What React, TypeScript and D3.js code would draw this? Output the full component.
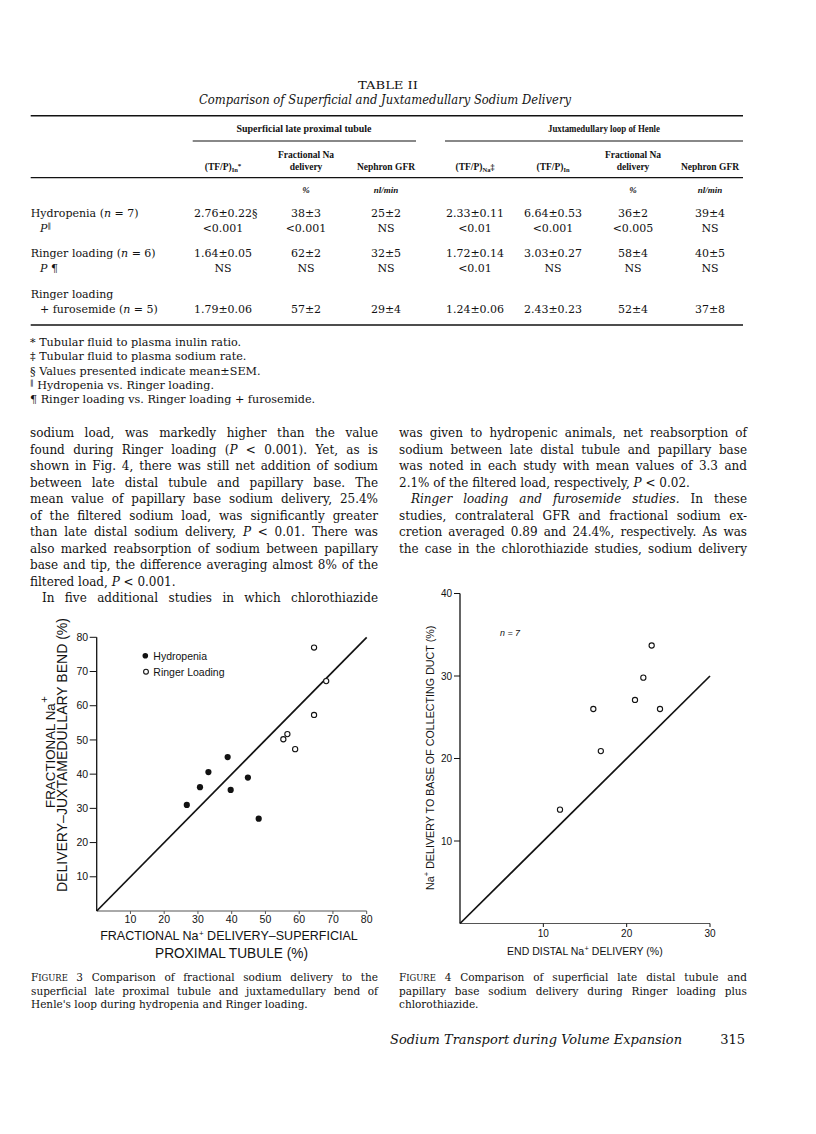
import React from 'react';
import * as d3 from 'd3';

const SERIF = '"DejaVu Serif"';
const TSERIF = '"Liberation Serif"';
const SANS = '"Liberation Sans"';
const INK = '#121212';

// ---------- Figure 3 data ----------
const hydropeniaX = [26.7, 30.6, 33.1, 38.8, 39.7, 44.8, 48.0];
const hydropeniaY = [31.0, 36.2, 40.6, 45.0, 35.4, 39.0, 27.0];
const ringerX = [55.3, 56.5, 58.8, 64.4, 64.4, 68.0];
const ringerY = [50.2, 51.7, 47.3, 57.3, 77.0, 67.2];
const fig3Ticks = [10, 20, 30, 40, 50, 60, 70, 80];

// ---------- Figure 4 data ----------
const fig4X = [12.0, 16.0, 16.9, 21.0, 22.0, 23.0, 24.0];
const fig4Y = [13.8, 26.0, 20.9, 27.1, 29.8, 33.7, 26.0];
const fig4XTicks = [10, 20, 30];
const fig4YTicks = [10, 20, 30, 40];

// ---------- Table II data ----------
const rowLabels = ['Hydropenia (_n_ = 7)', '_P_~‖~', 'Ringer loading (_n_ = 6)', '_P_ ¶', 'Ringer loading', '+ furosemide (_n_ = 5)'];
const hydropeniaRow = ['2.76±0.22§', '38±3', '25±2', '2.33±0.11', '6.64±0.53', '36±2', '39±4'];
const hydropeniaP = ['<0.001', '<0.001', 'NS', '<0.01', '<0.001', '<0.005', 'NS'];
const ringerRow = ['1.64±0.05', '62±2', '32±5', '1.72±0.14', '3.03±0.27', '58±4', '40±5'];
const ringerP = ['NS', 'NS', 'NS', '<0.01', 'NS', 'NS', 'NS'];
const furosemideRow = ['1.79±0.06', '57±2', '29±4', '1.24±0.06', '2.43±0.23', '52±4', '37±8'];
const unitsRow = ['', '%', 'nl/min', '', '', '%', 'nl/min'];
const footnotes = [
  '* Tubular fluid to plasma inulin ratio.',
  '‡ Tubular fluid to plasma sodium rate.',
  '§ Values presented indicate mean±SEM.',
  '~‖~ Hydropenia vs. Ringer loading.',
  '¶ Ringer loading vs. Ringer loading + furosemide.',
];

const leftBody = [
  'sodium load, was markedly higher than the value',
  'found during Ringer loading (_P_ < 0.001). Yet, as is',
  'shown in Fig. 4, there was still net addition of sodium',
  'between late distal tubule and papillary base. The',
  'mean value of papillary base sodium delivery, 25.4%',
  'of the filtered sodium load, was significantly greater',
  'than late distal sodium delivery, _P_ < 0.01. There was',
  'also marked reabsorption of sodium between papillary',
  'base and tip, the difference averaging almost 8% of the',
  'filtered load, _P_ < 0.001.',
  'In five additional studies in which chlorothiazide',
];
const leftNoJust = [9];
const leftIndent = [10];
const rightBody = [
  'was given to hydropenic animals, net reabsorption of',
  'sodium between late distal tubule and papillary base',
  'was noted in each study with mean values of 3.3 and',
  '2.1% of the filtered load, respectively, _P_ < 0.02.',
  '_Ringer loading and furosemide studies._ In these',
  'studies, contralateral GFR and fractional sodium ex-',
  'cretion averaged 0.89 and 24.4%, respectively. As was',
  'the case in the chlorothiazide studies, sodium delivery',
];
const rightNoJust = [3];
const rightIndent = [4];

const caption3 = [
  'F^IGURE^ 3 Comparison of fractional sodium delivery to the',
  'superficial late proximal tubule and juxtamedullary bend of',
  "Henle's loop during hydropenia and Ringer loading.",
];
const caption4 = [
  'F^IGURE^ 4 Comparison of superficial late distal tubule and',
  'papillary base sodium delivery during Ringer loading plus',
  'chlorothiazide.',
];

// ---------- text helpers ----------
let _ctx: CanvasRenderingContext2D | null = null;
function measure(text: string, font: string): number {
  if (!_ctx) {
    const c = document.createElement('canvas');
    _ctx = c.getContext('2d');
  }
  _ctx!.font = font;
  return _ctx!.measureText(text).width;
}

type Seg = { t: string; it: boolean; sc: boolean; sup: boolean };
function parseWords(line: string): Seg[][] {
  const words: Seg[][] = [];
  let it = false;
  let sc = false;
  let sup = false;
  let cur: Seg[] = [];
  let buf = '';
  const flush = () => {
    if (buf) {
      cur.push({ t: buf, it, sc, sup });
      buf = '';
    }
  };
  for (const ch of line) {
    if (ch === '_') { flush(); it = !it; }
    else if (ch === '^') { flush(); sc = !sc; }
    else if (ch === '~') { flush(); sup = !sup; }
    else if (ch === ' ') { flush(); if (cur.length) { words.push(cur); cur = []; } }
    else buf += ch;
  }
  flush();
  if (cur.length) words.push(cur);
  return words;
}

function JLine(props: { text: string; x: number; y: number; width: number; size: number; family: string; justify: boolean; indent?: number; scSize?: number }) {
  const { text, x, y, width, size, family, justify, indent = 0, scSize = size * 0.78 } = props;
  const words = parseWords(text);
  const supSize = size * 0.65;
  const segSize = (s: Seg) => (s.sup ? supSize : s.sc ? scSize : size);
  const fontOf = (s: Seg) => `${s.it ? 'italic ' : ''}${segSize(s)}px ${family}`;
  const ww = words.map((w) => w.reduce((a, s) => a + measure(s.t, fontOf(s)), 0));
  const sum = ww.reduce((a, b) => a + b, 0);
  const space = measure(' ', `${size}px ${family}`);
  const avail = width - indent;
  let gap = space;
  if (justify && words.length > 1) gap = Math.max(1.5, (avail - sum) / (words.length - 1));
  let cx = x + indent;
  return (
    <g>
      {words.map((w, i) => {
        let sx = cx;
        const el = (
          <text key={i} x={cx} y={y} fontFamily={family} fontSize={size} fill={INK}>
            {w.map((s, j) => {
              const t = (
                <tspan key={j} x={sx} y={y + (s.sup ? -size * 0.33 : 0)} fontSize={segSize(s)}
                  fontStyle={s.it ? 'italic' : 'normal'}>{s.t}</tspan>
              );
              sx += measure(s.t, fontOf(s));
              return t;
            })}
          </text>
        );
        cx += ww[i] + gap;
        return el;
      })}
    </g>
  );
}

type RSeg = { t: string; size: number; family: string; it?: boolean; bold?: boolean; dy?: number };
function fontStr(s: RSeg, k = 1) {
  return `${s.it ? 'italic ' : ''}${s.bold ? 'bold ' : ''}${s.size * k}px ${s.family}`;
}
// Single <text> element; multi-segment runs are fitted to a target width by scaling the font size.
function Rich(props: { segs: RSeg[]; x: number; y: number; anchor?: string; width?: number; fill?: string }) {
  const { segs, x, y, anchor = 'start', width, fill = INK } = props;
  const single = segs.length === 1;
  const nat = segs.reduce((a, s) => a + measure(s.t, fontStr(s)), 0);
  const k = width && !single ? width / nat : 1;
  const ws = segs.map((s) => measure(s.t, fontStr(s, k)));
  const total = single && width ? width : ws.reduce((a, b) => a + b, 0);
  let cx = anchor === 'middle' ? x - total / 2 : anchor === 'end' ? x - total : x;
  const s0 = segs[0];
  return (
    <text
      x={cx}
      y={y}
      fontFamily={s0.family}
      fontSize={s0.size * k}
      fill={fill}
      textLength={single && width ? width : undefined}
      lengthAdjust={single && width ? 'spacingAndGlyphs' : undefined}
      fontStyle={single && s0.it ? 'italic' : undefined}
      fontWeight={single && s0.bold ? 'bold' : undefined}
    >
      {single
        ? s0.t
        : segs.map((s, i) => {
            const el = (
              <tspan key={i} x={cx} y={y + (s.dy || 0) * k} fontSize={s.size * k} fontFamily={s.family}
                fontStyle={s.it ? 'italic' : 'normal'} fontWeight={s.bold ? 'bold' : 'normal'}>{s.t}</tspan>
            );
            cx += ws[i];
            return el;
          })}
    </text>
  );
}

// ---------- Table ----------
const colX = [223, 306, 386, 475, 553, 633, 710];
function Table() {
  const hs = 9.5;
  const hb = (t: string, extra: Partial<RSeg> = {}): RSeg => ({ t, size: hs, family: TSERIF, bold: true, ...extra });
  const valSize = 11;
  const cell = (v: string, cx: number, y: number) => {
    const base = v.replace(/§$/, '');
    const w = measure(base, `${valSize}px ${SERIF}`);
    return (
      <text key={cx + '-' + y} x={cx - w / 2} y={y} fontSize={valSize} fontFamily={SERIF} fill={INK}>{v}</text>
    );
  };
  const rowsY = [216.5, 232, 257, 272, 297.5, 312.5];
  const dataRows: [string[], number][] = [
    [hydropeniaRow, rowsY[0]],
    [hydropeniaP, rowsY[1]],
    [ringerRow, rowsY[2]],
    [ringerP, rowsY[3]],
    [furosemideRow, rowsY[5]],
  ];
  const labelX = [30.7, 40, 30.7, 40, 30.7, 40];
  return (
    <g>
      <Rich segs={[{ t: 'TABLE II', size: 11.5, family: SERIF }]} x={388} y={89} anchor="middle" width={60} />
      <Rich segs={[{ t: 'Comparison of Superficial and Juxtamedullary Sodium Delivery', size: 12, family: SERIF, it: true }]} x={385} y={104} anchor="middle" width={372} />
      <line x1={30.7} x2={743} y1={115.7} y2={115.7} stroke={INK} strokeWidth={1.6} />
      <Rich segs={[hb('Superficial late proximal tubule')]} x={304} y={131.5} anchor="middle" width={135} />
      <Rich segs={[hb('Juxtamedullary loop of Henle')]} x={604} y={131.5} anchor="middle" width={112} />
      <line x1={192.7} x2={416} y1={141} y2={141} stroke={INK} strokeWidth={1.1} />
      <line x1={445} x2={743} y1={141} y2={141} stroke={INK} strokeWidth={1.1} />
      <Rich segs={[hb('(TF/P)'), hb('In', { size: 6.5, dy: 2 }), hb('*', { size: 7, dy: -2 })]} x={colX[0]} y={169.5} anchor="middle" />
      <Rich segs={[hb('Fractional Na')]} x={colX[1]} y={158} anchor="middle" />
      <Rich segs={[hb('delivery')]} x={colX[1]} y={169.5} anchor="middle" />
      <Rich segs={[hb('Nephron GFR')]} x={colX[2]} y={169.5} anchor="middle" />
      <Rich segs={[hb('(TF/P)'), hb('Na', { size: 6.5, dy: 2 }), hb('‡', { size: 8 })]} x={colX[3]} y={169.5} anchor="middle" />
      <Rich segs={[hb('(TF/P)'), hb('In', { size: 6.5, dy: 2 })]} x={colX[4]} y={169.5} anchor="middle" />
      <Rich segs={[hb('Fractional Na')]} x={colX[5]} y={158} anchor="middle" />
      <Rich segs={[hb('delivery')]} x={colX[5]} y={169.5} anchor="middle" />
      <Rich segs={[hb('Nephron GFR')]} x={colX[6]} y={169.5} anchor="middle" />
      <line x1={30.7} x2={743} y1={177.7} y2={177.7} stroke={INK} strokeWidth={1.3} />
      {unitsRow.map((u, i) => u ? (
        <Rich key={'u' + i} segs={[{ t: u, size: 9, family: TSERIF, bold: true, it: true }]} x={colX[i]} y={193} anchor="middle" />
      ) : null)}
      {rowLabels.map((l, i) => (
        <JLine key={'l' + i} text={l} x={labelX[i]} y={rowsY[i]} width={200} size={11} family={SERIF} justify={false} />
      ))}
      {dataRows.map(([vals, y]) => vals.map((v, i) => cell(v, colX[i], y)))}
      <line x1={30.7} x2={743} y1={325} y2={325} stroke={INK} strokeWidth={1.6} />
      {footnotes.map((f, i) => (
        <JLine key={'f' + i} text={f} x={30} y={346 + i * 14.3} width={400} size={11.2} family={SERIF} justify={false} />
      ))}
    </g>
  );
}

function Body() {
  const lh = 16.5;
  const y0 = 437;
  return (
    <g>
      {leftBody.map((t, i) => (
        <JLine key={'lb' + i} text={t} x={30} y={y0 + i * lh} width={348} size={12} family={SERIF}
          justify={!leftNoJust.includes(i)} indent={leftIndent.includes(i) ? 12 : 0} />
      ))}
      {rightBody.map((t, i) => (
        <JLine key={'rb' + i} text={t} x={399} y={y0 + i * lh} width={348} size={12} family={SERIF}
          justify={!rightNoJust.includes(i)} indent={rightIndent.includes(i) ? 12 : 0} />
      ))}
    </g>
  );
}

function Captions() {
  const ys = [981, 994.5, 1008];
  return (
    <g>
      {caption3.map((t, i) => (
        <JLine key={'c3' + i} text={t} x={31} y={ys[i]} width={347} size={10.5} family={SERIF} justify={i < 2} scSize={8.4} />
      ))}
      {caption4.map((t, i) => (
        <JLine key={'c4' + i} text={t} x={399} y={ys[i]} width={348} size={10.5} family={SERIF} justify={i < 2} scSize={8.4} />
      ))}
      <Rich segs={[{ t: 'Sodium Transport during Volume Expansion', size: 12.5, family: SERIF, it: true }]} x={390} y={1044} width={292} />
      <Rich segs={[{ t: '315', size: 13, family: SERIF }]} x={745} y={1044} anchor="end" />
    </g>
  );
}

// ---------- Figure 3 ----------
function Figure3() {
  const x = d3.scaleLinear().domain([0, 80]).range([96.7, 366.7]);
  const y = d3.scaleLinear().domain([0, 80]).range([911, 637.3]);
  const fs = 10.5;
  return (
    <g>
      <line x1={x(0)} x2={x(0)} y1={y(0)} y2={y(80)} stroke={INK} strokeWidth={1.3} />
      <line x1={x(0)} x2={x(80)} y1={y(0)} y2={y(0)} stroke="#555" strokeWidth={1} />
      {fig3Ticks.map((t) => (
        <g key={'y' + t}>
          <line x1={x(0) - 7} x2={x(0)} y1={y(t)} y2={y(t)} stroke={INK} strokeWidth={1} />
          <text x={x(0) - 8.5} y={y(t) + 3.7} fontSize={fs} fontFamily={SANS} textAnchor="end" fill={INK}>{t}</text>
        </g>
      ))}
      {fig3Ticks.map((t) => (
        <g key={'x' + t}>
          <line x1={x(t)} x2={x(t)} y1={y(0)} y2={y(0) + 3} stroke="#555" strokeWidth={1} />
          <text x={x(t)} y={923} fontSize={fs} fontFamily={SANS} textAnchor="middle" fill={INK}>{t}</text>
        </g>
      ))}
      <line x1={x(0)} y1={y(0)} x2={x(80)} y2={y(80)} stroke={INK} strokeWidth={1.7} />
      {hydropeniaX.map((v, i) => (
        <circle key={'h' + i} cx={x(v)} cy={y(hydropeniaY[i])} r={3.1} fill={INK} />
      ))}
      {ringerX.map((v, i) => (
        <circle key={'r' + i} cx={x(v)} cy={y(ringerY[i])} r={2.6} fill="#fff" stroke={INK} strokeWidth={1.1} />
      ))}
      <circle cx={145.3} cy={655.7} r={2.8} fill={INK} />
      <text x={153.3} y={659.6} fontSize={fs} fontFamily={SANS} fill={INK}>Hydropenia</text>
      <circle cx={146} cy={671.7} r={2.4} fill="#fff" stroke={INK} strokeWidth={1.1} />
      <text x={153.3} y={675.6} fontSize={fs} fontFamily={SANS} fill={INK}>Ringer Loading</text>
      <g transform="translate(54.5,752) rotate(-90)">
        <Rich segs={[{ t: 'FRACTIONAL Na', size: 14, family: SANS }, { t: '+', size: 12, family: SANS, dy: -6.5 }]} x={0} y={0} anchor="middle" width={112} />
      </g>
      <g transform="translate(66.8,755) rotate(-90)">
        <Rich segs={[{ t: 'DELIVERY–JUXTAMEDULLARY BEND (%)', size: 14, family: SANS }]} x={0} y={0} anchor="middle" width={274} />
      </g>
      <Rich segs={[{ t: 'FRACTIONAL Na', size: 14, family: SANS }, { t: '+', size: 9, family: SANS, dy: -4.5 }, { t: ' DELIVERY–SUPERFICIAL', size: 14, family: SANS }]} x={229} y={940} anchor="middle" width={258} />
      <Rich segs={[{ t: 'PROXIMAL TUBULE (%)', size: 14, family: SANS }]} x={231.5} y={957.5} anchor="middle" width={153} />
    </g>
  );
}

// ---------- Figure 4 ----------
function Figure4() {
  const x = d3.scaleLinear().domain([0, 30]).range([460, 710]);
  const y = d3.scaleLinear().domain([0, 40]).range([923.5, 593.5]);
  const fs = 10;
  return (
    <g>
      <line x1={x(0)} x2={x(0)} y1={y(0)} y2={y(40)} stroke={INK} strokeWidth={1.3} />
      <line x1={x(0)} x2={x(30)} y1={y(0)} y2={y(0)} stroke="#555" strokeWidth={1} />
      {fig4YTicks.map((t) => (
        <g key={'y' + t}>
          <line x1={x(0) - 6} x2={x(0)} y1={y(t)} y2={y(t)} stroke={INK} strokeWidth={1} />
          <text x={x(0) - 8} y={y(t) + 3.5} fontSize={fs} fontFamily={SANS} textAnchor="end" fill={INK}>{t}</text>
        </g>
      ))}
      {fig4XTicks.map((t) => (
        <g key={'x' + t}>
          <line x1={x(t)} x2={x(t)} y1={y(0)} y2={y(0) + 3.5} stroke={INK} strokeWidth={1} />
          <text x={x(t)} y={937} fontSize={fs} fontFamily={SANS} textAnchor="middle" fill={INK}>{t}</text>
        </g>
      ))}
      <line x1={x(0)} y1={y(0)} x2={x(30)} y2={y(30)} stroke={INK} strokeWidth={1.7} />
      {fig4X.map((v, i) => (
        <circle key={'p' + i} cx={x(v)} cy={y(fig4Y[i])} r={2.6} fill="#fff" stroke={INK} strokeWidth={1.1} />
      ))}
      <Rich segs={[{ t: 'n = 7', size: 8.5, family: SANS, it: true }]} x={500} y={636} width={20} />
      <g transform="translate(433.5,757.5) rotate(-90)">
        <Rich segs={[{ t: 'Na', size: 10, family: SANS }, { t: '+', size: 7, family: SANS, dy: -4 }, { t: ' DELIVERY TO BASE OF COLLECTING DUCT (%)', size: 10, family: SANS }]} x={0} y={0} anchor="middle" width={265} />
      </g>
      <Rich segs={[{ t: 'END DISTAL Na', size: 10, family: SANS }, { t: '+', size: 7, family: SANS, dy: -4 }, { t: ' DELIVERY (%)', size: 10, family: SANS }]} x={585} y={955} anchor="middle" width={156} />
    </g>
  );
}

export default function App() {
  return (
    <svg width={816} height={1134} viewBox="0 0 816 1134" style={{ position: 'absolute', left: 0, top: 0, background: '#fff' }}>
      <rect x={0} y={0} width={816} height={1134} fill="#fff" />
      <Table />
      <Body />
      <Figure3 />
      <Figure4 />
      <Captions />
    </svg>
  );
}
